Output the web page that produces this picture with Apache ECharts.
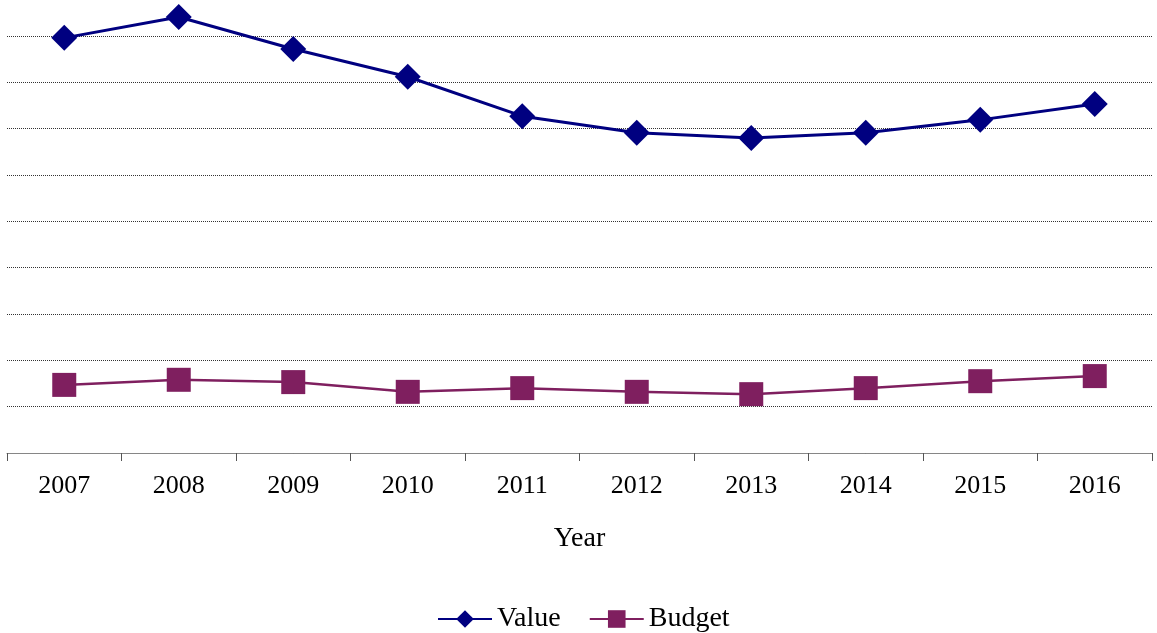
<!DOCTYPE html>
<html>
<head>
<meta charset="utf-8">
<script src="https://cdn.jsdelivr.net/npm/echarts@6/dist/echarts.min.js"></script>
<style>html,body{margin:0;padding:0;background:#fff}#c{width:1157px;height:633px}</style>
</head>
<body>
<div id="c"></div>
<script>
const years = ['2007','2008','2009','2010','2011','2012','2013','2014','2015','2016'];
const valueData = [89.6, 94.1, 87.2, 81.2, 72.7, 69.1, 68.0, 69.1, 71.9, 75.3];
const budgetData = [14.7, 15.8, 15.3, 13.2, 14.0, 13.2, 12.7, 14.0, 15.5, 16.6];

const font = '"Liberation Serif", "Times New Roman", serif';
const chart = echarts.init(document.getElementById('c'), null, {renderer: 'canvas'});
chart.setOption({
  animation: false,
  backgroundColor: '#fff',
  textStyle: {fontFamily: font},
  grid: {left: 7, right: 5, top: 36, bottom: 180, containLabel: false},
  legend: {
    left: 432, top: 600,
    itemWidth: 54, itemHeight: 22, itemGap: 28,
    textStyle: {fontFamily: font, fontSize: 28, color: '#000', padding: [0,0,0,0]},
    data: ['Value', 'Budget']
  },
  xAxis: {
    type: 'category',
    data: years,
    boundaryGap: true,
    name: 'Year',
    nameLocation: 'middle',
    nameGap: 72,
    nameTextStyle: {fontFamily: font, fontSize: 28, color: '#000'},
    axisLine: {lineStyle: {color: '#868686', width: 1}},
    axisTick: {show: true, length: 8, lineStyle: {color: '#555'}},
    axisLabel: {fontFamily: font, fontSize: 26, color: '#000', margin: 20}
  },
  yAxis: {
    type: 'value',
    min: 0, max: 90, interval: 10,
    axisLine: {show: false},
    axisTick: {show: false},
    axisLabel: {show: false},
    splitLine: {show: true, lineStyle: {color: '#333', type: [1, 1], width: 1}}
  },
  series: [
    {
      name: 'Value', type: 'line', data: valueData, clip: false,
      symbol: 'diamond', symbolSize: [26, 26],
      itemStyle: {color: '#000080'},
      lineStyle: {color: '#000080', width: 3}
    },
    {
      name: 'Budget', type: 'line', data: budgetData, clip: false,
      symbol: 'rect', symbolSize: [24, 24],
      itemStyle: {color: '#7F1F5F'},
      lineStyle: {color: '#7F1F5F', width: 2.5}
    }
  ]
});
</script>
</body>
</html>
